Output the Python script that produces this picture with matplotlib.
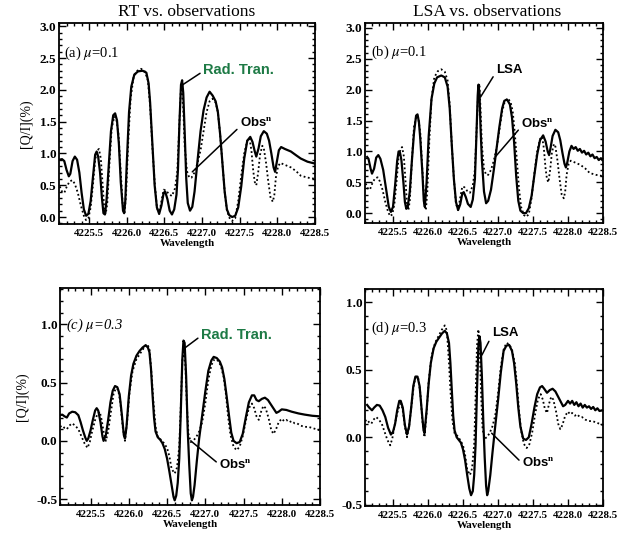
import numpy as np
import matplotlib
matplotlib.use('Agg')
from matplotlib import pyplot as plt
from matplotlib import ticker

# observed Q/I (%) at mu=0.1 (shared by panels a and b)
obs_mu01_wl = [4225.11, 4225.14, 4225.17, 4225.20, 4225.24, 4225.28, 4225.31, 4225.35, 4225.39, 4225.43,
               4225.46, 4225.49, 4225.52, 4225.55, 4225.58, 4225.61, 4225.63, 4225.655, 4225.68, 4225.70,
               4225.72, 4225.74, 4225.77, 4225.80, 4225.835, 4225.86, 4225.89, 4225.92, 4225.95, 4225.97,
               4225.99, 4226.02, 4226.05, 4226.09, 4226.14, 4226.19, 4226.24, 4226.28, 4226.31, 4226.34,
               4226.37, 4226.40, 4226.43, 4226.46, 4226.49, 4226.52, 4226.56, 4226.60, 4226.64, 4226.67,
               4226.70, 4226.72, 4226.735, 4226.75, 4226.77, 4226.80, 4226.83, 4226.86, 4226.90, 4226.94,
               4226.98, 4227.02, 4227.06, 4227.10, 4227.14, 4227.18, 4227.21, 4227.24, 4227.27, 4227.30,
               4227.33, 4227.37, 4227.40, 4227.44, 4227.48, 4227.52, 4227.56, 4227.60, 4227.63, 4227.655,
               4227.68, 4227.70, 4227.72, 4227.745, 4227.77, 4227.80, 4227.82, 4227.85, 4227.88, 4227.91,
               4227.94, 4227.96, 4227.98, 4228.01, 4228.04, 4228.10, 4228.18, 4228.25, 4228.31, 4228.40,
               4228.50]
obs_mu01_q = [0.48, 0.40, 0.38, 0.47, 0.56, 0.58, 0.52, 0.38, 0.18, 0.02,
              -0.05, -0.02, 0.15, 0.50, 0.90, 1.05, 1.07, 0.92, 0.50, 0.15,
              0.05, 0.20, 0.85, 1.40, 1.58, 1.55, 1.30, 0.70, 0.12, 0.05,
              0.35, 1.20, 1.85, 2.20, 2.30, 2.33, 2.29, 2.15, 1.75, 1.10,
              0.55, 0.15, 0.05, 0.25, 0.43, 0.42, 0.36, 0.33, 0.45, 0.70,
              1.50, 2.05, 2.10, 1.70, 1.10, 0.72, 0.62, 0.62, 0.70, 0.85,
              1.05, 1.35, 1.65, 1.82, 1.86, 1.80, 1.65, 1.30, 0.85, 0.40,
              0.10, -0.03, -0.06, -0.02, 0.25, 0.65, 1.00, 1.20, 1.24, 1.05,
              0.72, 0.55, 0.50, 0.70, 0.98, 1.12, 1.08, 0.85, 0.55, 0.30,
              0.24, 0.35, 0.62, 0.80, 0.85, 0.82, 0.78, 0.72, 0.65, 0.62,
              0.60]

# radiative transfer, mu=0.1
rt_mu01_wl = [4225.10, 4225.14, 4225.17, 4225.20, 4225.23, 4225.25, 4225.28, 4225.31, 4225.34, 4225.37,
              4225.40, 4225.43, 4225.46, 4225.49, 4225.52, 4225.55, 4225.58, 4225.60, 4225.62, 4225.645,
              4225.67, 4225.69, 4225.71, 4225.73, 4225.76, 4225.79, 4225.82, 4225.845, 4225.87, 4225.895,
              4225.92, 4225.95, 4225.965, 4225.98, 4226.00, 4226.03, 4226.06, 4226.10, 4226.15, 4226.21,
              4226.26, 4226.29, 4226.31, 4226.34, 4226.37, 4226.40, 4226.43, 4226.46, 4226.49, 4226.51,
              4226.54, 4226.57, 4226.60, 4226.63, 4226.66, 4226.68, 4226.70, 4226.72, 4226.735, 4226.75,
              4226.77, 4226.79, 4226.81, 4226.84, 4226.87, 4226.90, 4226.94, 4226.98, 4227.02, 4227.06,
              4227.10, 4227.14, 4227.18, 4227.21, 4227.24, 4227.27, 4227.30, 4227.33, 4227.36, 4227.40,
              4227.44, 4227.48, 4227.52, 4227.56, 4227.60, 4227.64, 4227.67, 4227.70, 4227.72, 4227.75,
              4227.78, 4227.82, 4227.86, 4227.89, 4227.92, 4227.95, 4227.97, 4227.99, 4228.02, 4228.05,
              4228.10, 4228.18, 4228.25, 4228.31, 4228.40, 4228.50]
rt_mu01_q = [0.90, 0.91, 0.88, 0.74, 0.64, 0.68, 0.88, 0.95, 0.90, 0.70,
             0.38, 0.12, 0.02, 0.05, 0.25, 0.62, 0.98, 1.03, 0.95, 0.70,
             0.30, 0.06, 0.04, 0.25, 0.80, 1.35, 1.60, 1.63, 1.52, 1.15,
             0.55, 0.10, 0.06, 0.25, 0.85, 1.65, 2.05, 2.24, 2.29, 2.30,
             2.27, 2.10, 1.80, 1.15, 0.50, 0.15, 0.05, 0.18, 0.38, 0.40,
             0.28, 0.10, 0.04, 0.12, 0.35, 0.75, 1.50, 2.08, 2.15, 1.95,
             1.30, 0.60, 0.22, 0.10, 0.16, 0.40, 0.89, 1.35, 1.68, 1.88,
             1.97, 1.91, 1.82, 1.65, 1.30, 0.85, 0.40, 0.12, 0.03, 0.00,
             0.02, 0.15, 0.48, 0.92, 1.20, 1.26, 1.18, 1.03, 0.95, 1.08,
             1.27, 1.35, 1.31, 1.20, 1.00, 0.78, 0.71, 0.85, 1.05, 1.10,
             1.07, 1.03, 0.97, 0.92, 0.87, 0.84]

# last scattering approximation, mu=0.1
lsa_mu01_wl = [4225.13, 4225.15, 4225.18, 4225.20, 4225.23, 4225.26, 4225.29, 4225.32, 4225.36, 4225.40,
               4225.44, 4225.47, 4225.50, 4225.53, 4225.56, 4225.58, 4225.60, 4225.62, 4225.65, 4225.67,
               4225.69, 4225.71, 4225.74, 4225.77, 4225.80, 4225.83, 4225.85, 4225.87, 4225.89, 4225.92,
               4225.94, 4225.955, 4225.98, 4226.01, 4226.05, 4226.09, 4226.13, 4226.19, 4226.24, 4226.28,
               4226.31, 4226.34, 4226.37, 4226.40, 4226.43, 4226.46, 4226.49, 4226.51, 4226.54, 4226.57,
               4226.61, 4226.64, 4226.67, 4226.69, 4226.71, 4226.72, 4226.735, 4226.75, 4226.77, 4226.80,
               4226.83, 4226.86, 4226.90, 4226.94, 4226.98, 4227.02, 4227.06, 4227.09, 4227.13, 4227.17,
               4227.20, 4227.23, 4227.26, 4227.29, 4227.32, 4227.36, 4227.40, 4227.44, 4227.48, 4227.52,
               4227.56, 4227.60, 4227.645, 4227.68, 4227.71, 4227.73, 4227.75, 4227.78, 4227.82, 4227.86,
               4227.89, 4227.92, 4227.95, 4227.97, 4227.99, 4228.02, 4228.05, 4228.08, 4228.11, 4228.14,
               4228.17, 4228.20, 4228.23, 4228.26, 4228.29, 4228.32, 4228.35, 4228.38, 4228.41, 4228.44,
               4228.47, 4228.49]
lsa_mu01_q = [0.91, 0.88, 0.72, 0.64, 0.72, 0.90, 0.94, 0.88, 0.70, 0.40,
              0.10, 0.02, 0.10, 0.45, 0.85, 1.00, 0.98, 0.86, 0.48, 0.18,
              0.07, 0.10, 0.35, 0.85, 1.30, 1.58, 1.60, 1.48, 1.20, 0.65,
              0.20, 0.10, 0.50, 1.25, 1.85, 2.10, 2.20, 2.23, 2.20, 2.05,
              1.70, 1.10, 0.55, 0.18, 0.05, 0.14, 0.32, 0.34, 0.26, 0.15,
              0.10, 0.22, 0.55, 1.20, 1.90, 2.08, 1.95, 1.40, 0.86, 0.35,
              0.16, 0.20, 0.38, 0.70, 1.05, 1.40, 1.70, 1.82, 1.84, 1.76,
              1.55, 1.15, 0.60, 0.20, 0.04, 0.00, 0.00, 0.08, 0.28, 0.62,
              0.95, 1.18, 1.26, 1.16, 1.00, 0.94, 1.05, 1.25, 1.35, 1.31,
              1.18, 0.98, 0.80, 0.74, 0.82, 1.00, 1.09, 1.04, 1.07, 1.01,
              1.04, 0.98, 1.01, 0.95, 0.98, 0.92, 0.95, 0.89, 0.91, 0.86,
              0.89, 0.86]

# observed Q/I (%) at mu=0.3 (shared by panels c and d)
obs_mu03_wl = [4225.10, 4225.13, 4225.16, 4225.19, 4225.22, 4225.26, 4225.30, 4225.34, 4225.38, 4225.42,
               4225.46, 4225.49, 4225.52, 4225.56, 4225.59, 4225.62, 4225.645, 4225.67, 4225.70, 4225.73,
               4225.76, 4225.80, 4225.83, 4225.86, 4225.89, 4225.92, 4225.95, 4225.98, 4226.01, 4226.05,
               4226.10, 4226.15, 4226.20, 4226.24, 4226.27, 4226.30, 4226.32, 4226.35, 4226.38, 4226.42,
               4226.46, 4226.50, 4226.53, 4226.56, 4226.60, 4226.63, 4226.66, 4226.68, 4226.70, 4226.72,
               4226.74, 4226.76, 4226.78, 4226.81, 4226.84, 4226.88, 4226.92, 4226.96, 4227.00, 4227.04,
               4227.08, 4227.12, 4227.16, 4227.20, 4227.24, 4227.27, 4227.30, 4227.33, 4227.37, 4227.41,
               4227.45, 4227.49, 4227.53, 4227.57, 4227.61, 4227.64, 4227.67, 4227.70, 4227.73, 4227.76,
               4227.79, 4227.83, 4227.86, 4227.89, 4227.92, 4227.96, 4228.00, 4228.03, 4228.06, 4228.10,
               4228.13, 4228.17, 4228.20, 4228.25, 4228.30, 4228.35, 4228.40, 4228.45, 4228.50]
obs_mu03_q = [0.12, 0.13, 0.11, 0.10, 0.13, 0.15, 0.13, 0.10, 0.04, -0.02,
              -0.06, -0.01, 0.08, 0.18, 0.23, 0.25, 0.18, 0.08, 0.00, 0.08,
              0.22, 0.40, 0.45, 0.44, 0.33, 0.12, 0.00, 0.18, 0.42, 0.60,
              0.70, 0.75, 0.80, 0.83, 0.79, 0.55, 0.35, 0.12, 0.03, 0.01,
              -0.02, -0.06, -0.13, -0.24, -0.28, -0.23, -0.05, 0.30, 0.68, 0.80,
              0.65, 0.30, 0.06, -0.01, 0.00, 0.03, 0.08, 0.16, 0.32, 0.52,
              0.65, 0.70, 0.69, 0.65, 0.55, 0.40, 0.20, 0.05, -0.05, -0.08,
              -0.05, 0.04, 0.17, 0.28, 0.32, 0.28, 0.21, 0.18, 0.25, 0.30,
              0.28, 0.19, 0.10, 0.06, 0.09, 0.16, 0.19, 0.17, 0.18, 0.16,
              0.17, 0.15, 0.15, 0.13, 0.12, 0.12, 0.11, 0.10, 0.09]

# radiative transfer, mu=0.3
rt_mu03_wl = [4225.10, 4225.13, 4225.16, 4225.19, 4225.22, 4225.26, 4225.30, 4225.34, 4225.37, 4225.40,
              4225.43, 4225.45, 4225.47, 4225.50, 4225.53, 4225.56, 4225.58, 4225.60, 4225.63, 4225.655,
              4225.67, 4225.70, 4225.73, 4225.76, 4225.79, 4225.82, 4225.85, 4225.88, 4225.91, 4225.935,
              4225.95, 4225.97, 4226.00, 4226.03, 4226.06, 4226.10, 4226.14, 4226.18, 4226.22, 4226.25,
              4226.27, 4226.29, 4226.31, 4226.33, 4226.35, 4226.38, 4226.41, 4226.44, 4226.47, 4226.50,
              4226.53, 4226.56, 4226.585, 4226.60, 4226.62, 4226.64, 4226.66, 4226.68, 4226.70, 4226.715,
              4226.73, 4226.75, 4226.77, 4226.79, 4226.81, 4226.825, 4226.84, 4226.86, 4226.89, 4226.92,
              4226.96, 4227.00, 4227.04, 4227.08, 4227.11, 4227.15, 4227.19, 4227.22, 4227.25, 4227.28,
              4227.31, 4227.34, 4227.37, 4227.41, 4227.45, 4227.49, 4227.53, 4227.57, 4227.61, 4227.64,
              4227.67, 4227.70, 4227.74, 4227.78, 4227.82, 4227.86, 4227.90, 4227.93, 4227.96, 4228.00,
              4228.06, 4228.13, 4228.22, 4228.30, 4228.40, 4228.50]
rt_mu03_q = [0.22, 0.225, 0.21, 0.20, 0.235, 0.25, 0.245, 0.22, 0.16, 0.09,
             0.03, 0.00, 0.02, 0.09, 0.18, 0.26, 0.28, 0.26, 0.16, 0.04,
             0.00, 0.05, 0.18, 0.33, 0.43, 0.47, 0.46, 0.40, 0.22, 0.05,
             0.02, 0.12, 0.38, 0.56, 0.66, 0.73, 0.77, 0.80, 0.82, 0.80,
             0.76, 0.62, 0.40, 0.20, 0.08, 0.03, 0.01, -0.02, -0.07, -0.15,
             -0.26, -0.38, -0.48, -0.51, -0.47, -0.36, -0.15, 0.25, 0.70, 0.86,
             0.84, 0.55, 0.10, -0.20, -0.45, -0.51, -0.48, -0.38, -0.17, 0.02,
             0.22, 0.42, 0.60, 0.69, 0.72, 0.71, 0.68, 0.63, 0.53, 0.38,
             0.22, 0.07, 0.00, -0.02, -0.01, 0.06, 0.20, 0.33, 0.39, 0.39,
             0.35, 0.34, 0.36, 0.37, 0.35, 0.31, 0.27, 0.24, 0.25, 0.27,
             0.265, 0.25, 0.235, 0.225, 0.215, 0.21]

# last scattering approximation, mu=0.3
lsa_mu03_wl = [4225.13, 4225.16, 4225.20, 4225.23, 4225.27, 4225.31, 4225.35, 4225.39, 4225.43, 4225.47,
               4225.50, 4225.53, 4225.56, 4225.59, 4225.61, 4225.64, 4225.67, 4225.70, 4225.73, 4225.76,
               4225.79, 4225.82, 4225.85, 4225.88, 4225.91, 4225.935, 4225.95, 4225.98, 4226.01, 4226.04,
               4226.08, 4226.12, 4226.16, 4226.20, 4226.24, 4226.27, 4226.30, 4226.32, 4226.34, 4226.36,
               4226.38, 4226.41, 4226.44, 4226.47, 4226.50, 4226.53, 4226.56, 4226.59, 4226.615, 4226.64,
               4226.66, 4226.68, 4226.70, 4226.72, 4226.735, 4226.75, 4226.77, 4226.79, 4226.81, 4226.83,
               4226.845, 4226.86, 4226.89, 4226.92, 4226.96, 4227.00, 4227.04, 4227.08, 4227.12, 4227.16,
               4227.20, 4227.23, 4227.26, 4227.29, 4227.32, 4227.36, 4227.40, 4227.44, 4227.48, 4227.52,
               4227.56, 4227.60, 4227.63, 4227.66, 4227.70, 4227.74, 4227.78, 4227.82, 4227.86, 4227.90,
               4227.93, 4227.96, 4228.00, 4228.03, 4228.06, 4228.09, 4228.12, 4228.15, 4228.18, 4228.21,
               4228.24, 4228.27, 4228.30, 4228.33, 4228.36, 4228.39, 4228.42, 4228.45, 4228.49]
lsa_mu03_q = [0.24, 0.22, 0.20, 0.22, 0.24, 0.235, 0.20, 0.15, 0.07, 0.02,
              0.04, 0.10, 0.20, 0.27, 0.27, 0.22, 0.09, 0.02, 0.08, 0.22,
              0.38, 0.45, 0.45, 0.38, 0.20, 0.06, 0.03, 0.20, 0.40, 0.55,
              0.66, 0.71, 0.74, 0.77, 0.79, 0.77, 0.70, 0.55, 0.35, 0.16,
              0.05, 0.00, -0.02, -0.04, -0.09, -0.17, -0.28, -0.38, -0.43, -0.40,
              -0.28, -0.05, 0.35, 0.68, 0.75, 0.70, 0.45, 0.12, -0.15, -0.36,
              -0.43, -0.40, -0.28, -0.12, 0.08, 0.27, 0.48, 0.64, 0.68, 0.685,
              0.64, 0.55, 0.40, 0.22, 0.08, -0.01, -0.02, 0.00, 0.10, 0.22,
              0.32, 0.37, 0.38, 0.36, 0.33, 0.35, 0.36, 0.34, 0.30, 0.26,
              0.23, 0.24, 0.27, 0.25, 0.27, 0.24, 0.26, 0.23, 0.25, 0.22,
              0.24, 0.22, 0.23, 0.21, 0.225, 0.20, 0.215, 0.195, 0.20]

plt.rcParams['mathtext.fontset'] = 'stix'
serif = 'Liberation Serif'
sans = 'Liberation Sans'
green = '#1d7a45'

fig = plt.figure(figsize=(6.36, 5.38), dpi=100)

ax_a = fig.add_axes([0.0928, 0.5836, 0.4025, 0.3736])
ax_b = fig.add_axes([0.5739, 0.5855, 0.3742, 0.3717])
ax_c = fig.add_axes([0.0943, 0.0613, 0.4088, 0.4033])
ax_d = fig.add_axes([0.5739, 0.0595, 0.3742, 0.4033])


def style(ax, ylim, ylabel):
    ax.set_xlim(4225.1, 4228.5)
    ax.set_ylim(*ylim)
    ax.xaxis.set_major_locator(ticker.MultipleLocator(0.5))
    ax.xaxis.set_minor_locator(ticker.MultipleLocator(0.1))
    ax.yaxis.set_major_locator(ticker.MultipleLocator(0.5))
    ax.yaxis.set_minor_locator(ticker.MultipleLocator(0.1))
    ax.xaxis.set_major_formatter(ticker.FormatStrFormatter('%.1f'))
    ax.yaxis.set_major_formatter(ticker.FormatStrFormatter('%.1f'))
    ax.tick_params(which='both', direction='in', top=True, right=True, width=1.0)
    ax.tick_params(which='major', length=5)
    ax.tick_params(which='minor', length=2.5)
    ax.tick_params(axis='x', pad=3.5)
    ax.tick_params(axis='y', pad=2)
    for lab in ax.get_xticklabels():
        lab.set_fontfamily(serif)
        lab.set_fontweight('bold')
        lab.set_fontsize(7.8)
    for lab in ax.get_yticklabels():
        lab.set_fontfamily(serif)
        lab.set_fontweight('bold')
        lab.set_fontsize(9.5)
    for sp in ax.spines.values():
        sp.set_linewidth(1.3)
    ax.set_xlabel('Wavelength', fontfamily=serif, fontweight='bold', fontsize=7.8, labelpad=1)
    if ylabel:
        ax.set_ylabel('[Q/I](%)', fontfamily=serif, fontsize=10, labelpad=5)


def curves(ax, wl, q, owl, oq):
    ax.plot(owl, oq, color='k', lw=1.3, linestyle=(0, (1, 1.4)))
    ax.plot(wl, q, color='k', lw=1.6)


curves(ax_a, rt_mu01_wl, rt_mu01_q, obs_mu01_wl, obs_mu01_q)
curves(ax_b, lsa_mu01_wl, lsa_mu01_q, obs_mu01_wl, obs_mu01_q)
curves(ax_c, rt_mu03_wl, rt_mu03_q, obs_mu03_wl, obs_mu03_q)
curves(ax_d, lsa_mu03_wl, lsa_mu03_q, obs_mu03_wl, obs_mu03_q)

style(ax_a, (-0.11, 3.05), True)
style(ax_b, (-0.16, 3.08), False)
style(ax_c, (-0.55, 1.31), True)
style(ax_d, (-0.51, 1.10), False)

line = dict(arrowstyle='-', lw=1.1, color='k', shrinkA=0, shrinkB=0)
lab = dict(fontfamily=sans, fontweight='bold', fontsize=9.5, ha='left', va='center')

ax_a.annotate('Rad. Tran.', xy=(4226.73, 2.07), xytext=(4227.01, 2.31), color=green,
              arrowprops=dict(line, relpos=(0, 0.4)), **dict(lab, fontsize=10.5))
ax_a.annotate(r'Obs$^\mathbf{n}$', xy=(4226.87, 0.71), xytext=(4227.50, 1.48),
              arrowprops=dict(line, relpos=(0, 0.2)), **lab)
ax_b.annotate('LSA', xy=(4226.75, 1.88), xytext=(4226.97, 2.32),
              arrowprops=dict(line, relpos=(0, 0.3)), **lab)
ax_b.annotate(r'Obs$^\mathbf{n}$', xy=(4226.96, 0.91), xytext=(4227.33, 1.46),
              arrowprops=dict(line, relpos=(0, 0.2)), **lab)
ax_c.annotate('Rad. Tran.', xy=(4226.72, 0.79), xytext=(4226.94, 0.91), color=green,
              arrowprops=dict(line, relpos=(0, 0.4)), **dict(lab, fontsize=10.5))
ax_c.annotate(r'Obs$^\mathbf{n}$', xy=(4226.81, 0.0), xytext=(4227.18, -0.20),
              arrowprops=dict(line, relpos=(0, 0.5)), **lab)
ax_d.annotate('LSA', xy=(4226.77, 0.61), xytext=(4226.91, 0.77),
              arrowprops=dict(line, relpos=(0, 0.3)), **lab)
ax_d.annotate(r'Obs$^\mathbf{n}$', xy=(4226.91, 0.03), xytext=(4227.34, -0.19),
              arrowprops=dict(line, relpos=(0, 0.5)), **lab)

tag = dict(fontfamily=serif, fontsize=10.5, ha='left', va='center')
ax_a.text(0.02, 0.85, r'(a) $\mu$=0.1', transform=ax_a.transAxes, **tag)
ax_b.text(0.025, 0.855, r'(b) $\mu$=0.1', transform=ax_b.transAxes, **tag)
ax_c.text(0.025, 0.83, r'(c) $\mu$=0.3', transform=ax_c.transAxes, style='italic', **tag)
ax_d.text(0.025, 0.82, r'(d) $\mu$=0.3', transform=ax_d.transAxes, **tag)

fig.text(187 / 636, 1 - 12 / 538, 'RT vs. observations', ha='center', va='center',
         fontfamily=serif, fontsize=12.5)
fig.text(487 / 636, 1 - 12 / 538, 'LSA vs. observations', ha='center', va='center',
         fontfamily=serif, fontsize=12.5)

fig.savefig('out.png', dpi=100)
